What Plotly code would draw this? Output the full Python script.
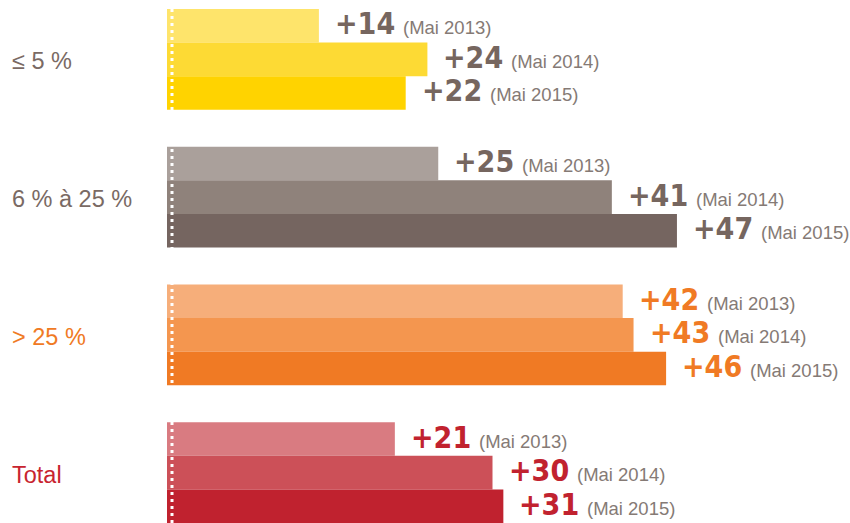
import plotly.graph_objects as go

groups = ["≤ 5 %", "6 % à 25 %", "> 25 %", "Total"]
periods = ["Mai 2013", "Mai 2014", "Mai 2015"]
values = {
    "≤ 5 %": [14, 24, 22],
    "6 % à 25 %": [25, 41, 47],
    "> 25 %": [42, 43, 46],
    "Total": [21, 30, 31],
}
bar_colors = {
    "≤ 5 %": ["#FEE46B", "#FDDA34", "#FFD300"],
    "6 % à 25 %": ["#AAA09B", "#8F827B", "#756560"],
    "> 25 %": ["#F6AE7A", "#F4964F", "#F07A24"],
    "Total": ["#D97B81", "#CC5058", "#C0222F"],
}
num_colors = {
    "≤ 5 %": "#76665F",
    "6 % à 25 %": "#76665F",
    "> 25 %": "#F07A24",
    "Total": "#C1222F",
}
label_colors = {
    "≤ 5 %": "#7A6A64",
    "6 % à 25 %": "#7A6A64",
    "> 25 %": "#F07A24",
    "Total": "#C8242F",
}

NUM_STYLE = ("font-family:'DejaVu Sans Condensed','Liberation Sans Narrow','Roboto Condensed',"
             "'Arial Narrow','DejaVu Sans',sans-serif;font-weight:bold;font-stretch:condensed")
GAP_STYLE = "font-family:'Liberation Sans';font-size:14px;font-weight:normal"
MAI_STYLE = "font-family:'Liberation Sans';font-size:18.5px;font-weight:normal;color:#857A75"

GAP = 1.1
fig = go.Figure()
annotations = []
ys_all = []
for g, name in enumerate(groups):
    ys = [-(g * (3 + GAP) + i) for i in range(3)]
    ys_all += ys
    fig.add_trace(go.Bar(
        x=values[name], y=ys, orientation="h", width=1.0,
        marker=dict(color=bar_colors[name], line=dict(width=0)),
        hoverinfo="skip", showlegend=False,
    ))
    for v, y, p in zip(values[name], ys, periods):
        annotations.append(dict(
            x=v, y=y, xref="x", yref="y", xanchor="left", yanchor="middle",
            xshift=14, yshift=2, showarrow=False,
            text=(f"<span style=\"{NUM_STYLE}\">+{v}</span>"
                  f"<span style=\"{GAP_STYLE}\">&nbsp;&nbsp;</span>"
                  f"<span style=\"{MAI_STYLE}\">({p})</span>"),
            font=dict(family="Liberation Sans", size=30, color=num_colors[name]),
        ))
    annotations.append(dict(
        x=0, y=sum(ys) / 3, xref="paper", yref="y", xanchor="left", yanchor="middle",
        xshift=-157, yshift=-2, showarrow=False, text=name,
        font=dict(family="Liberation Sans", size=23.5, color=label_colors[name]),
    ))

ymin = min(ys_all) - 0.5
ymax = max(ys_all) + 0.5

fig.add_shape(type="line", xref="x", yref="paper", xsizemode="pixel", xanchor=0,
              x0=5, x1=5, y0=0, y1=1,
              line=dict(color="white", width=3, dash="3px,4px"))

fig.update_layout(
    width=850, height=523,
    margin=dict(l=167, r=0, t=9, b=0),
    paper_bgcolor="white", plot_bgcolor="white",
    barmode="overlay",
    xaxis=dict(range=[0, 683 / 10.85], visible=False),
    yaxis=dict(range=[ymin, ymax], visible=False),
    annotations=annotations,
)

fig.write_html("out.html", config={"displayModeBar": False},
               post_script="document.body.style.margin='0';")
